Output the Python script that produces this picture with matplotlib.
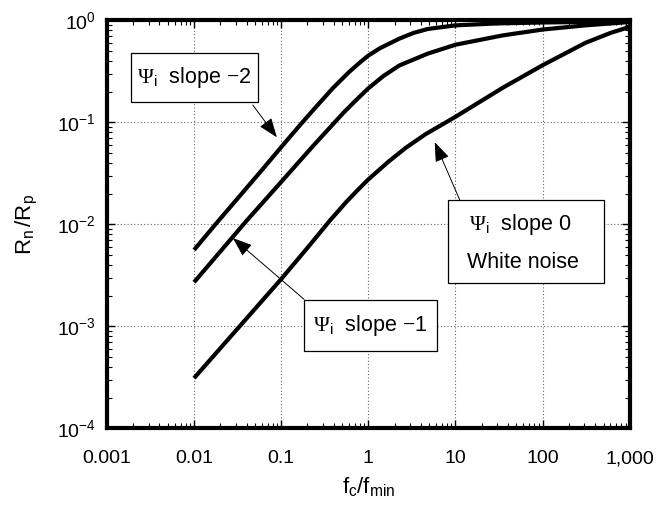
import matplotlib
matplotlib.use("Agg")
import matplotlib.pyplot as plt
from matplotlib.patches import Rectangle
from matplotlib.ticker import FixedLocator, LogLocator, NullFormatter

plt.rcParams['font.family'] = ['Liberation Sans', 'DejaVu Sans']
plt.rcParams['mathtext.fontset'] = 'custom'
plt.rcParams['mathtext.rm'] = 'Liberation Serif'
plt.rcParams['mathtext.sf'] = 'Liberation Sans'
plt.rcParams['mathtext.it'] = 'Liberation Sans:italic'

# Rn/Rp against fc/fmin for three input spectra
x_slope2 = [0.01, 0.018, 0.0566, 0.1, 0.163, 0.23, 0.39, 0.6, 0.8, 1.0, 1.35, 2.27, 3.3, 4.8, 10, 30, 100, 1000]
r_slope2 = [0.0056, 0.0102, 0.032, 0.057, 0.093, 0.13, 0.215, 0.31, 0.385, 0.45, 0.53, 0.66, 0.75, 0.82, 0.89, 0.93, 0.95, 0.97]

x_slope1 = [0.01, 0.04, 0.1, 0.23, 0.39, 0.51, 0.7, 1.0, 1.5, 2.27, 4.8, 10, 35, 100, 310, 1000]
r_slope1 = [0.0027, 0.0108, 0.026, 0.058, 0.095, 0.122, 0.16, 0.215, 0.285, 0.36, 0.47, 0.575, 0.71, 0.81, 0.89, 0.96]

x_white = [0.01, 0.1, 0.211, 0.36, 0.557, 0.75, 1.0, 1.7, 2.68, 4.5, 10, 35, 100, 310, 600, 1000]
r_white = [0.00031, 0.0029, 0.0062, 0.0108, 0.0165, 0.0215, 0.0275, 0.041, 0.056, 0.076, 0.113, 0.218, 0.362, 0.60, 0.75, 0.86]

x_ticks = [0.001, 0.01, 0.1, 1, 10, 100, 1000]
x_labels = ['0.001', '0.01', '0.1', '1', '10', '100', '1,000']

fig = plt.figure(figsize=(6.56, 5.05), dpi=100)
ax = fig.add_axes([0.163, 0.152, 0.797, 0.808])

for xs, rs in [(x_slope2, r_slope2), (x_slope1, r_slope1), (x_white, r_white)]:
    ax.plot(xs, rs, color='black', lw=3.0, solid_capstyle='butt', solid_joinstyle='round')

ax.set_xscale('log')
ax.set_yscale('log')
ax.set_xlim(0.001, 1000)
ax.set_ylim(1e-4, 1)

ax.xaxis.set_major_locator(FixedLocator(x_ticks))
ax.set_xticklabels(x_labels)
ax.xaxis.set_minor_locator(LogLocator(base=10, subs=range(2, 10), numticks=20))
ax.xaxis.set_minor_formatter(NullFormatter())
ax.yaxis.set_major_locator(LogLocator(base=10, numticks=10))
ax.yaxis.set_minor_locator(LogLocator(base=10, subs=range(2, 10), numticks=20))
ax.yaxis.set_minor_formatter(NullFormatter())

ax.tick_params(which='both', direction='in', top=True, right=True, labelsize=14)
ax.tick_params(which='major', length=6, width=1)
ax.tick_params(which='minor', length=3.5, width=0.8)
ax.tick_params(axis='x', pad=16)
ax.tick_params(axis='y', pad=8)

for s in ax.spines.values():
    s.set_linewidth(3)

ax.grid(True, which='major', color='0.4', lw=0.8, linestyle=(0, (1, 2)))

ax.set_xlabel(r'$\mathdefault{f_c/f_{min}}$', fontsize=16, labelpad=6)
ax.set_ylabel(r'$\mathdefault{R_n\,/R_p}$', fontsize=16, labelpad=12)

# labelled boxes (axes fraction: x0, y0, x1, y1)
def label_box(x0, y0, x1, y1):
    ax.add_patch(Rectangle((x0, y0), x1 - x0, y1 - y0, transform=ax.transAxes,
                           fc='white', ec='black', lw=0.9, zorder=4))

def pointer(start, tip):
    ax.annotate('', xy=tip, xytext=start, xycoords='axes fraction',
                arrowprops=dict(arrowstyle='-|>,head_length=1.2,head_width=0.45',
                                color='black', lw=0.7, shrinkA=0, shrinkB=0,
                                mutation_scale=10), zorder=5)

label_box(0.046, 0.799, 0.289, 0.919)
ax.text(0.1675, 0.859, r'$\Psi_\mathsf{i}$  slope $-$2', transform=ax.transAxes,
        fontsize=15.5, ha='center', va='center', zorder=6)
pointer((0.279, 0.792), (0.325, 0.713))

label_box(0.377, 0.189, 0.631, 0.314)
ax.text(0.504, 0.251, r'$\Psi_\mathsf{i}$  slope $-$1', transform=ax.transAxes,
        fontsize=15.5, ha='center', va='center', zorder=6)
pointer((0.377, 0.316), (0.241, 0.466))

label_box(0.652, 0.355, 0.950, 0.559)
ax.text(0.79, 0.500, r'$\Psi_\mathsf{i}$  slope 0', transform=ax.transAxes,
        fontsize=15.5, ha='center', va='center', zorder=6)
ax.text(0.796, 0.405, 'White noise', transform=ax.transAxes,
        fontsize=15.5, ha='center', va='center', zorder=6)
pointer((0.675, 0.559), (0.627, 0.701))

fig.savefig('out.png', dpi=100)
